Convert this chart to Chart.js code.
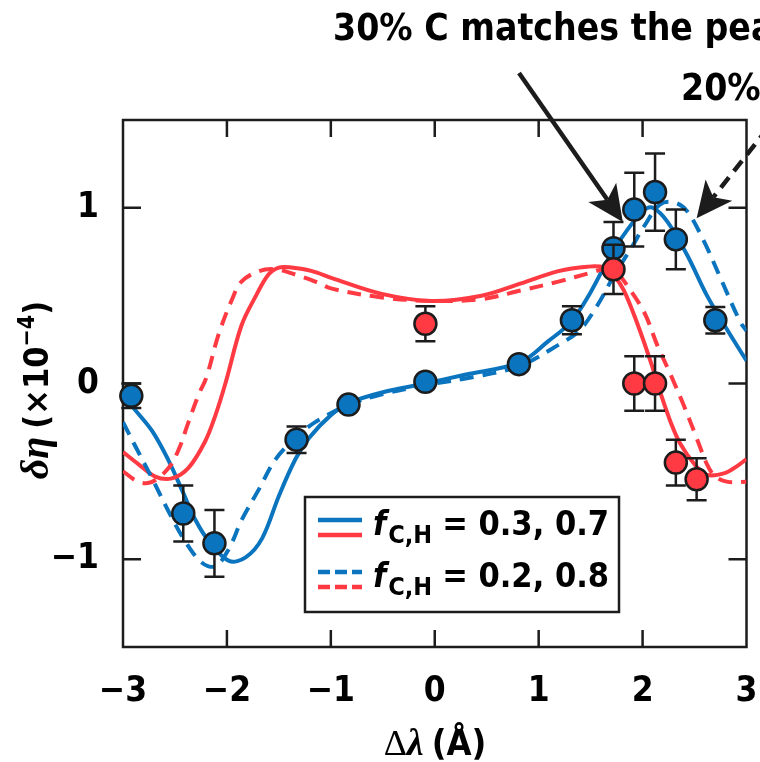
<!DOCTYPE html>
<html>
<head>
<meta charset="utf-8">
<script src="https://cdn.jsdelivr.net/npm/chart.js@4.4.0/dist/chart.umd.min.js"></script>
<style>
  html, body { margin: 0; padding: 0; background: #fff; }
  #wrap { width: 760px; height: 762px; }
</style>
</head>
<body>
<div id="wrap"><canvas id="chart" width="760" height="762"></canvas></div>
<script>
// Axis ticks
const xTicks = [-3, -2, -1, 0, 1, 2, 3]
const yTicks = [-1, 0, 1]

// Measured points (blue = C, red = H) with error bar half-heights
const blueX = [-2.92, -2.42, -2.12, -1.33, -0.83, -0.09, 0.81, 1.32, 1.72, 1.92, 2.12, 2.32, 2.70]
const blueY = [-0.07, -0.74, -0.91, -0.32, -0.12, 0.01, 0.11, 0.36, 0.77, 0.99, 1.09, 0.82, 0.36]
const blueErr = [0.07, 0.16, 0.19, 0.075, 0, 0, 0, 0.08, 0.15, 0.21, 0.22, 0.17, 0.075]

const redX = [-0.09, 1.72, 1.92, 2.12, 2.32, 2.52]
const redY = [0.34, 0.65, 0.0, 0.0, -0.45, -0.545]
const redErr = [0.1, 0.14, 0.155, 0.155, 0.13, 0.12]

// Model curves, f_C,H = 0.3, 0.7 (solid)
const blueSolidX = [-3.0, -2.91, -2.72, -2.56, -2.43, -2.30, -2.17, -1.98, -1.82, -1.66, -1.50, -1.34, -1.21, -1.0, -0.82, -0.5, -0.09, 0.29, 0.82, 1.09, 1.31, 1.50, 1.69, 1.86, 2.02, 2.10, 2.24, 2.43, 2.62, 2.82, 3.0]
const blueSolidY = [-0.05, -0.13, -0.27, -0.44, -0.61, -0.78, -0.90, -1.01, -0.99, -0.88, -0.64, -0.43, -0.31, -0.18, -0.11, -0.05, 0.0, 0.05, 0.12, 0.24, 0.35, 0.52, 0.73, 0.88, 0.99, 1.0, 0.92, 0.73, 0.5, 0.3, 0.13]
const redSolidX = [-3.0, -2.85, -2.69, -2.53, -2.37, -2.21, -2.11, -2.01, -1.86, -1.72, -1.60, -1.50, -1.38, -1.18, -0.99, -0.51, -0.03, 0.45, 0.83, 1.19, 1.47, 1.63, 1.73, 1.82, 1.95, 2.08, 2.17, 2.27, 2.36, 2.50, 2.62, 2.79, 2.91, 3.0]
const redSolidY = [-0.39, -0.46, -0.53, -0.54, -0.48, -0.33, -0.18, 0.01, 0.33, 0.50, 0.62, 0.66, 0.66, 0.64, 0.60, 0.51, 0.47, 0.50, 0.57, 0.64, 0.665, 0.66, 0.61, 0.53, 0.34, 0.12, -0.05, -0.22, -0.34, -0.46, -0.52, -0.51, -0.47, -0.43]

// Model curves, f_C,H = 0.2, 0.8 (dashed)
const blueDashX = [-3.0, -2.87, -2.72, -2.56, -2.40, -2.24, -2.11, -1.98, -1.86, -1.69, -1.53, -1.34, -1.15, -0.82, -0.5, -0.09, 0.4, 0.82, 1.19, 1.39, 1.57, 1.73, 1.89, 2.02, 2.17, 2.31, 2.43, 2.59, 2.75, 2.94, 3.0]
const blueDashY = [-0.22, -0.37, -0.54, -0.73, -0.90, -1.02, -1.04, -0.94, -0.78, -0.6, -0.43, -0.31, -0.22, -0.12, -0.06, -0.01, 0.04, 0.10, 0.22, 0.30, 0.45, 0.62, 0.77, 0.9, 1.02, 1.03, 0.98, 0.81, 0.6, 0.35, 0.3]
const redDashX = [-3.0, -2.85, -2.72, -2.56, -2.46, -2.37, -2.27, -2.20, -2.08, -1.95, -1.86, -1.69, -1.53, -1.34, -1.15, -0.99, -0.51, -0.03, 0.45, 0.83, 1.19, 1.50, 1.63, 1.75, 1.86, 2.02, 2.14, 2.27, 2.40, 2.52, 2.62, 2.70, 2.82, 3.0]
const redDashY = [-0.5, -0.56, -0.56, -0.48, -0.37, -0.22, -0.06, 0.03, 0.28, 0.48, 0.58, 0.64, 0.65, 0.62, 0.58, 0.54, 0.49, 0.47, 0.48, 0.53, 0.58, 0.63, 0.65, 0.63, 0.55, 0.40, 0.22, 0.05, -0.13, -0.31, -0.46, -0.53, -0.56, -0.56]

const legendLabels = ["0.3, 0.7", "0.2, 0.8"]
const noteLines = ["30% C matches the peak", "20%"]

const BLUE = "#0a74bf"
const RED = "#ff3a42"
const INK = "#1c1c1c"
const NARROW = '"Liberation Sans Narrow", "DejaVu Sans Condensed", sans-serif'
const SERIF = '"Liberation Serif", "DejaVu Serif", serif'

const toPts = (xs, ys) => xs.map((x, i) => ({ x: x, y: ys[i] }))

// draw a run of text pieces (font, offset) left to right
function drawRuns(ctx, runs, x, y) {
  let cx = x
  runs.forEach((r) => {
    ctx.font = r.font
    ctx.fillText(r.text, cx, y + (r.dy || 0))
    cx += ctx.measureText(r.text).width + (r.gap || 0)
  })
  return cx
}
function runsWidth(ctx, runs) {
  let w = 0
  runs.forEach((r) => {
    ctx.font = r.font
    w += ctx.measureText(r.text).width + (r.gap || 0)
  })
  return w
}

function drawArrow(ctx, x0, y0, x1, y1, dashed) {
  const dx = x1 - x0, dy = y1 - y0
  const len = Math.hypot(dx, dy)
  const ux = dx / len, uy = dy / len
  const headLen = 36, halfW = 17, notch = 9
  ctx.save()
  ctx.strokeStyle = INK
  ctx.fillStyle = INK
  ctx.lineWidth = 4.5
  if (dashed) ctx.setLineDash([13, 8])
  ctx.beginPath()
  ctx.moveTo(x0, y0)
  ctx.lineTo(x1 - ux * (headLen - notch), y1 - uy * (headLen - notch))
  ctx.stroke()
  ctx.setLineDash([])
  const bx = x1 - ux * headLen, by = y1 - uy * headLen
  ctx.beginPath()
  ctx.moveTo(x1, y1)
  ctx.lineTo(bx - uy * halfW, by + ux * halfW)
  ctx.lineTo(x1 - ux * (headLen - notch), y1 - uy * (headLen - notch))
  ctx.lineTo(bx + uy * halfW, by - ux * halfW)
  ctx.closePath()
  ctx.fill()
  ctx.restore()
}

// Error bars drawn just before their marker dataset
const errorBars = {
  id: "errorBars",
  beforeDatasetDraw(chart, args) {
    const ds = chart.data.datasets[args.index]
    if (!ds.errors) return
    const { ctx, scales } = chart
    ctx.save()
    ctx.strokeStyle = INK
    ctx.lineWidth = 2.5
    ds.data.forEach((p, i) => {
      const e = ds.errors[i]
      if (!e) return
      const px = scales.x.getPixelForValue(p.x)
      const top = scales.y.getPixelForValue(p.y + e)
      const bot = scales.y.getPixelForValue(p.y - e)
      ctx.beginPath()
      ctx.moveTo(px, top); ctx.lineTo(px, bot)
      ctx.moveTo(px - 10, top); ctx.lineTo(px + 10, top)
      ctx.moveTo(px - 10, bot); ctx.lineTo(px + 10, bot)
      ctx.stroke()
    })
    ctx.restore()
  },
}

// Box frame with inward ticks on all four sides
const frame = {
  id: "frame",
  beforeDatasetsDraw(chart) {
    const { ctx, chartArea: a, scales } = chart
    ctx.save()
    ctx.strokeStyle = INK
    ctx.lineWidth = 2.5
    ctx.strokeRect(a.left, a.top, a.right - a.left, a.bottom - a.top)
    ctx.beginPath()
    xTicks.slice(1, -1).forEach((v) => {
      const px = scales.x.getPixelForValue(v)
      ctx.moveTo(px, a.bottom); ctx.lineTo(px, a.bottom - 17)
      ctx.moveTo(px, a.top); ctx.lineTo(px, a.top + 17)
    })
    yTicks.forEach((v) => {
      const py = scales.y.getPixelForValue(v)
      ctx.moveTo(a.left, py); ctx.lineTo(a.left + 18, py)
      ctx.moveTo(a.right, py); ctx.lineTo(a.right - 18, py)
    })
    ctx.stroke()
    ctx.restore()
  },
}

// Titles, legend box and annotations
const decorations = {
  id: "decorations",
  afterDraw(chart) {
    const { ctx, scales } = chart
    ctx.save()
    ctx.fillStyle = "#000"
    ctx.textBaseline = "alphabetic"

    // x title
    const xRuns = [
      { text: "\u0394", font: "36px " + SERIF },
      { text: "\u03bb", font: "italic bold 38px " + SERIF, gap: 8 },
      { text: "(\u00c5)", font: "bold 36px " + NARROW },
    ]
    drawRuns(ctx, xRuns, 435 - runsWidth(ctx, xRuns) / 2, 755)

    // y title
    const yRuns = [
      { text: "\u03b4\u03b7", font: "italic bold 40px " + SERIF, gap: 8 },
      { text: "(\u00d710", font: "bold 34px " + NARROW },
      { text: "\u22124", font: "bold 23px " + NARROW, dy: -14 },
      { text: ")", font: "bold 34px " + NARROW },
    ]
    ctx.save()
    ctx.translate(48, 390)
    ctx.rotate(-Math.PI / 2)
    drawRuns(ctx, yRuns, -runsWidth(ctx, yRuns) / 2, 0)
    ctx.restore()

    // legend
    ctx.save()
    ctx.fillStyle = "#fff"
    ctx.fillRect(305, 497, 314, 115)
    ctx.strokeStyle = INK
    ctx.lineWidth = 2.5
    ctx.strokeRect(305, 497, 314, 115)
    const rows = [
      { y: 520, dash: [] },
      { y: 572, dash: [12, 5] },
    ]
    rows.forEach((r, i) => {
      ctx.lineWidth = 4.5
      ctx.setLineDash(r.dash)
      ctx.strokeStyle = BLUE
      ctx.beginPath(); ctx.moveTo(318, r.y); ctx.lineTo(362, r.y); ctx.stroke()
      ctx.strokeStyle = RED
      ctx.beginPath(); ctx.moveTo(318, r.y + 15); ctx.lineTo(362, r.y + 15); ctx.stroke()
      ctx.setLineDash([])
      ctx.fillStyle = "#000"
      drawRuns(ctx, [
        { text: "f", font: "italic bold 34px " + NARROW, gap: 2 },
        { text: "C,H", font: "bold 25px " + NARROW, dy: 8, gap: 10 },
        { text: "= " + legendLabels[i], font: "bold 34px " + NARROW },
      ], 373, r.y + 15)
    })
    ctx.restore()

    // annotations
    ctx.font = "bold 37px " + NARROW
    ctx.fillText(noteLines[0], 333, 40)
    ctx.fillText(noteLines[1], 681, 100)
    const sx = scales.x, sy = scales.y
    drawArrow(ctx, 519, 73, sx.getPixelForValue(1.81), sy.getPixelForValue(0.92), false)
    drawArrow(ctx, 768, 128, sx.getPixelForValue(2.52), sy.getPixelForValue(0.94), true)
    ctx.restore()
  },
}

const curve = (xs, ys, color, dashed) => ({
  type: "line",
  data: toPts(xs, ys),
  borderColor: color,
  borderWidth: 4,
  borderDash: dashed ? [14, 9] : [],
  pointRadius: 0,
  tension: 0.35,
  fill: false,
})

const markers = (xs, ys, errs, color) => ({
  type: "scatter",
  data: toPts(xs, ys),
  errors: errs,
  backgroundColor: color,
  borderColor: INK,
  borderWidth: 2.5,
  pointRadius: 11,
  clip: false,
})

new Chart(document.getElementById("chart"), {
  data: {
    datasets: [
      markers(redX, redY, redErr, RED),
      markers(blueX, blueY, blueErr, BLUE),
      curve(redDashX, redDashY, RED, true),
      curve(blueDashX, blueDashY, BLUE, true),
      curve(redSolidX, redSolidY, RED, false),
      curve(blueSolidX, blueSolidY, BLUE, false),
    ],
  },
  options: {
    responsive: false,
    animation: false,
    devicePixelRatio: 1,
    layout: { padding: { top: 120, right: 12, left: 0, bottom: 0 } },
    plugins: { legend: { display: false }, tooltip: { enabled: false } },
    scales: {
      x: {
        type: "linear",
        min: -3,
        max: 3,
        grid: { display: false, drawTicks: false },
        border: { display: false },
        afterBuildTicks: (s) => { s.ticks = xTicks.map((v) => ({ value: v })) },
        afterFit: (s) => { s.height = 115; s.paddingLeft = 0; s.paddingRight = 0 },
        ticks: {
          padding: 24,
          color: "#000",
          font: { family: NARROW, size: 35, weight: "bold" },
          callback: (v) => (v < 0 ? "\u2212" + Math.abs(v) : String(v)),
        },
      },
      y: {
        type: "linear",
        min: -1.5,
        max: 1.5,
        grid: { display: false, drawTicks: false },
        border: { display: false },
        afterBuildTicks: (s) => { s.ticks = yTicks.map((v) => ({ value: v })) },
        afterFit: (s) => { s.width = 123; s.paddingTop = 0; s.paddingBottom = 0 },
        ticks: {
          padding: 24,
          color: "#000",
          font: { family: NARROW, size: 35, weight: "bold" },
          callback: (v) => (v < 0 ? "\u2212" + Math.abs(v) : String(v)),
        },
      },
    },
  },
  plugins: [frame, errorBars, decorations],
})
</script>
</body>
</html>
